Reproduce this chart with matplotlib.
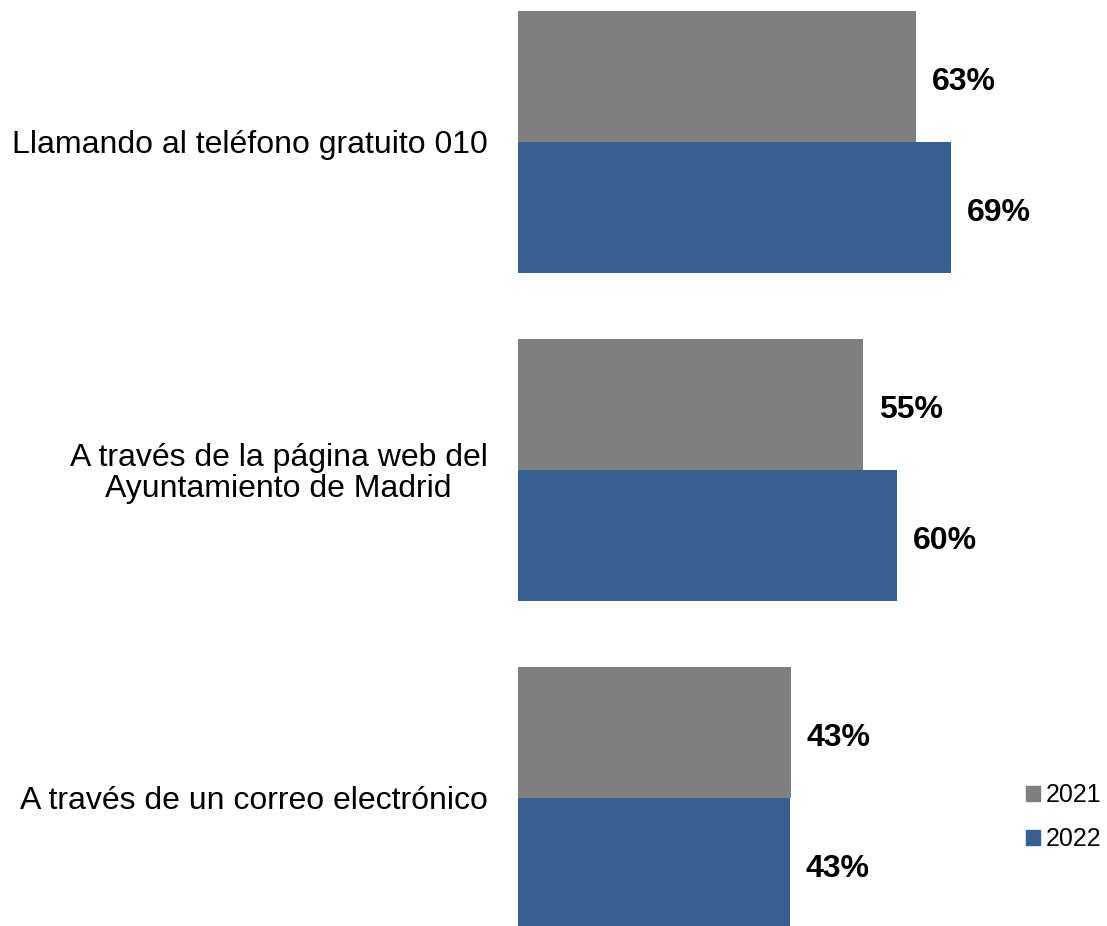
import matplotlib
matplotlib.use("Agg")
import matplotlib.pyplot as plt
import numpy as np
from matplotlib.patches import Patch

categories = ["Llamando al teléfono gratuito 010",
              "A través de la página web del\nAyuntamiento de Madrid",
              "A través de un correo electrónico"]
series_names = ["2021", "2022"]
values_2021 = [63.1, 54.8, 43.3]
values_2022 = [68.7, 60.1, 43.1]
labels_2021 = ["63%", "55%", "43%"]
labels_2022 = ["69%", "60%", "43%"]
colors = ["#7f7f7f", "#376092"]

plt.rcParams['font.family'] = ['Liberation Sans', 'DejaVu Sans']

W, H = 1107, 926
fig = plt.figure(figsize=(W / 100, H / 100), dpi=100)
x0 = 518
ax = fig.add_axes([x0 / W, 0, 1 - x0 / W, 1])

y = np.arange(len(categories))
bh = 0.4
ax.barh(y - bh / 2, values_2021, height=bh, color=colors[0], label=series_names[0])
ax.barh(y + bh / 2, values_2022, height=bh, color=colors[1], label=series_names[1])

px_per_unit = 6.3
ax.set_xlim(0, (W - x0) / px_per_unit)
cat_px = 328.0
top_c = 141.7
ax.set_ylim((H - top_c) / cat_px, -top_c / cat_px)

for i in range(len(categories)):
    for vals, labs, dy in ((values_2021, labels_2021, -bh / 2), (values_2022, labels_2022, bh / 2)):
        ax.annotate(labs[i], xy=(vals[i], y[i] + dy), xytext=(16, -13.5),
                    textcoords='offset pixels', ha='left', va='baseline',
                    fontsize=23, fontweight='bold')

ax.set_yticks(y)
ax.set_yticklabels(categories, fontsize=23, multialignment='center', linespacing=1.05)
ax.tick_params(axis='y', length=0, pad=22)
ax.set_xticks([])
for s in ax.spines.values():
    s.set_visible(False)

handles = [Patch(color=colors[0]), Patch(color=colors[1])]
ax.legend(handles, series_names, loc='center left',
          bbox_to_anchor=((1016 - x0) / (W - x0), 1 - 817 / H),
          frameon=False, fontsize=18, handlelength=0.55, handleheight=0.55,
          handletextpad=0.25, labelspacing=0.8, borderaxespad=0)

fig.savefig("out.png", dpi=100)
